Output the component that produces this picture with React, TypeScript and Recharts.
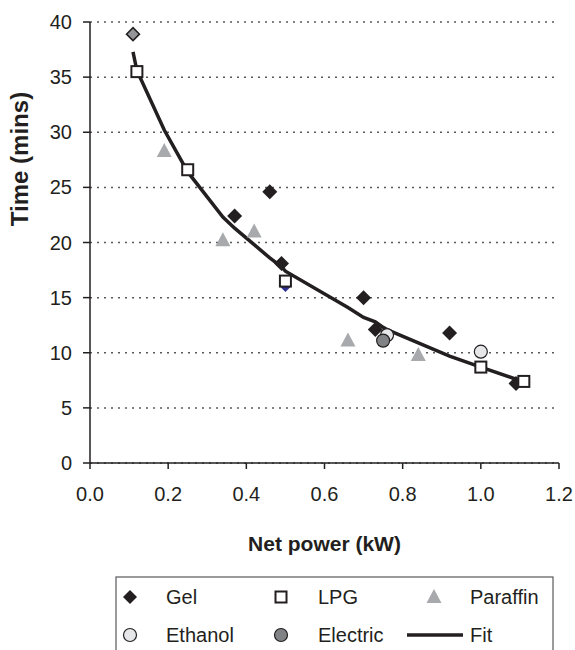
import React from "react";
import { ScatterChart, Scatter, XAxis, YAxis, CartesianGrid } from "recharts";

// ---- data ----
const gelX = [0.37, 0.46, 0.49, 0.70, 0.73, 0.92, 1.09];
const gelY = [22.4, 24.6, 18.1, 15.0, 12.1, 11.8, 7.2];
const lpgX = [0.12, 0.25, 0.50, 1.00, 1.11];
const lpgY = [35.5, 26.6, 16.5, 8.7, 7.4];
const paraffinX = [0.19, 0.34, 0.42, 0.66, 0.84];
const paraffinY = [28.3, 20.2, 21.0, 11.1, 9.8];
const ethanolX = [0.76, 1.00];
const ethanolY = [11.6, 10.1];
const electricX = [0.75];
const electricY = [11.1];
const greyDiamondX = [0.11];
const greyDiamondY = [38.9];
const blueDiamondX = [0.50];
const blueDiamondY = [16.1];
const fitX = [0.11, 0.12, 0.19, 0.25, 0.34, 0.37, 0.42, 0.46, 0.49, 0.50, 0.66, 0.70, 0.73, 0.75, 0.76, 0.84, 0.92, 1.00, 1.09, 1.11];
const fitY = [37.3, 35.6, 30.2, 26.4, 22.3, 21.3, 19.8, 18.6, 17.8, 17.4, 14.1, 13.2, 12.8, 12.3, 12.1, 10.9, 9.7, 8.7, 7.6, 7.4];
const xTicks = [0, 0.2, 0.4, 0.6, 0.8, 1.0, 1.2];
const yTicks = [0, 5, 10, 15, 20, 25, 30, 35, 40];

const zip = (xs: number[], ys: number[]) => xs.map((x, i) => ({ x, y: ys[i] }));

const FONT = "'Liberation Sans', Arial, sans-serif";
const TXT = "#231f20";

const diamond = (fill: string, stroke: string, r: number, sw = 0) => (p: any) => {
  const { cx, cy } = p;
  if (cx == null || cy == null) return <g />;
  return (
    <path
      d={`M${cx},${cy - r}L${cx + r},${cy}L${cx},${cy + r}L${cx - r},${cy}Z`}
      fill={fill}
      stroke={stroke}
      strokeWidth={sw}
    />
  );
};
const square = (p: any) => {
  const { cx, cy } = p;
  if (cx == null) return <g />;
  return <rect x={cx - 5.5} y={cy - 5.5} width={11} height={11} fill="#fff" stroke="#231f20" strokeWidth={2} />;
};
const triangle = (p: any) => {
  const { cx, cy } = p;
  if (cx == null) return <g />;
  return <path d={`M${cx},${cy - 8}L${cx + 7.5},${cy + 6}L${cx - 7.5},${cy + 6}Z`} fill="#a7a9ac" />;
};
const circle = (fill: string) => (p: any) => {
  const { cx, cy } = p;
  if (cx == null) return <g />;
  return <circle cx={cx} cy={cy} r={6.5} fill={fill} stroke="#231f20" strokeWidth={1.2} />;
};
const none = () => <g />;

const tickStyle = { fontSize: 20, fontFamily: FONT, fill: TXT };

function LegendBox() {
  const rowY = [597, 635];
  const colMarker = [130, 281, 434];
  const colText = [166, 318, 470];
  const t = (x: number, y: number, s: string) => (
    <text x={x} y={y + 7} fontSize={20} fontFamily={FONT} fill={TXT}>
      {s}
    </text>
  );
  return (
    <svg width={575} height={650} style={{ position: "absolute", left: 0, top: 0, pointerEvents: "none" }}>
      <rect x={116} y={577} width={437} height={90} fill="none" stroke="#58595b" strokeWidth={1.2} />
      {diamond("#231f20", "none", 7)({ cx: colMarker[0], cy: rowY[0] })}
      {t(colText[0], rowY[0], "Gel")}
      {square({ cx: colMarker[1], cy: rowY[0] })}
      {t(colText[1], rowY[0], "LPG")}
      {triangle({ cx: colMarker[2], cy: rowY[0] })}
      {t(colText[2], rowY[0], "Paraffin")}
      {circle("#e6e7e8")({ cx: colMarker[0], cy: rowY[1] })}
      {t(colText[0], rowY[1], "Ethanol")}
      {circle("#808285")({ cx: colMarker[1], cy: rowY[1] })}
      {t(colText[1], rowY[1], "Electric")}
      <line x1={407} x2={463} y1={rowY[1]} y2={rowY[1]} stroke="#231f20" strokeWidth={3.5} />
      {t(colText[2], rowY[1], "Fit")}
    </svg>
  );
}

export default function App() {
  return (
    <div style={{ position: "absolute", left: 0, top: 0, width: 575, height: 650, background: "#fff" }}>
      <ScatterChart width={575} height={650} margin={{ top: 22, right: 16, bottom: 157, left: 30 }}>
        <CartesianGrid vertical={false} stroke="#58595b" strokeDasharray="2 5" strokeWidth={1.5} />
        <XAxis
          type="number"
          dataKey="x"
          domain={[0, 1.2]}
          ticks={xTicks}
          tickFormatter={(v: number) => v.toFixed(1)}
          tick={tickStyle}
          tickSize={6}
          tickMargin={18}
          height={30}
          stroke="#231f20"
          strokeWidth={1.5}
          allowDecimals
          label={{
            content: (p: any) => {
              const vb = p.viewBox || { x: 90, y: 463, width: 469 };
              return (
                <text x={vb.x + vb.width / 2} y={vb.y + 88} textAnchor="middle" fontSize={21} fontWeight="bold" fontFamily={FONT} fill={TXT}>
                  Net power (kW)
                </text>
              );
            },
          }}
        />
        <YAxis
          type="number"
          dataKey="y"
          domain={[0, 40]}
          ticks={yTicks}
          tick={tickStyle}
          tickSize={7}
          tickMargin={11}
          width={60}
          stroke="#231f20"
          strokeWidth={1.5}
          label={{
            content: (p: any) => {
              const vb = p.viewBox || { x: 30, y: 22 };
              const cx = vb.x - 2;
              const cy = vb.y + 137;
              return (
                <text x={cx} y={cy} transform={`rotate(-90, ${cx}, ${cy})`} textAnchor="middle" fontSize={24} fontWeight="bold" fontFamily={FONT} fill={TXT}>
                  Time (mins)
                </text>
              );
            },
          }}
        />
        <Scatter name="Fit" data={zip(fitX, fitY)} line={{ stroke: "#231f20", strokeWidth: 3.5 }} lineJointType="linear" shape={none} isAnimationActive={false} />
        <Scatter name="Gel" data={zip(gelX, gelY)} shape={diamond("#231f20", "none", 7.5)} isAnimationActive={false} />
        <Scatter name="Paraffin" data={zip(paraffinX, paraffinY)} shape={triangle} isAnimationActive={false} />
        <Scatter name="Ethanol" data={zip(ethanolX, ethanolY)} shape={circle("#e6e7e8")} isAnimationActive={false} />
        <Scatter name="Electric" data={zip(electricX, electricY)} shape={circle("#808285")} isAnimationActive={false} />
        <Scatter name="Blue" data={zip(blueDiamondX, blueDiamondY)} shape={diamond("#2e3192", "none", 6.5)} isAnimationActive={false} legendType="none" />
        <Scatter name="LPG" data={zip(lpgX, lpgY)} shape={square} isAnimationActive={false} />
        <Scatter name="Grey" data={zip(greyDiamondX, greyDiamondY)} shape={diamond("#939598", "#231f20", 6.5, 1.5)} isAnimationActive={false} legendType="none" />
      </ScatterChart>
      <LegendBox />
    </div>
  );
}
